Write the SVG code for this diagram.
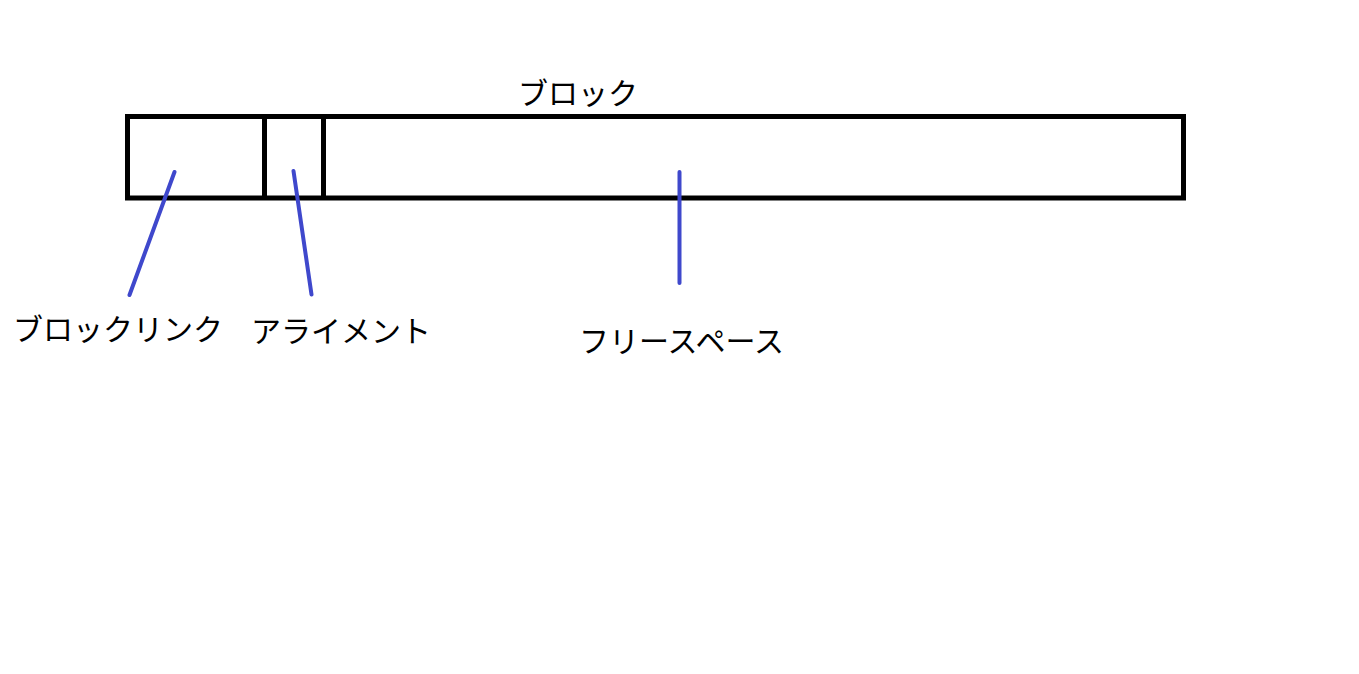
<svg xmlns="http://www.w3.org/2000/svg" width="1359" height="674" viewBox="0 0 1359 674">
<style>
.box{fill:none;stroke:#000;stroke-width:5}
.div{stroke:#000;stroke-width:5}
.lead{stroke:#3F48CC;stroke-width:4;stroke-linecap:round;fill:none}
text{font-family:"Noto Sans CJK JP","Noto Sans",sans-serif;font-size:30px;fill:#000}
</style>
<rect width="1359" height="674" fill="#fff"/>
<g id="block">
<rect class="box" x="127.5" y="116.5" width="1056" height="81.5"/>
<text x="518" y="104">ブロック</text>
</g>
<g id="blocklink">
<line class="div" x1="264.5" y1="116.5" x2="264.5" y2="198"/>
<text x="13" y="340">ブロックリンク</text>
</g>
<g id="alignment">
<line class="div" x1="323.5" y1="116.5" x2="323.5" y2="198"/>
<text x="251" y="342">アライメント</text>
</g>
<g id="freespace">
<text x="579" y="352">フリースペース</text>
</g>
<g id="connectors">
<line class="lead" x1="174.5" y1="172" x2="129.5" y2="295"/>
<line class="lead" x1="293.5" y1="171" x2="311.5" y2="294.5"/>
<line class="lead" x1="679.5" y1="172" x2="679.5" y2="283"/>
</g>
</svg>
